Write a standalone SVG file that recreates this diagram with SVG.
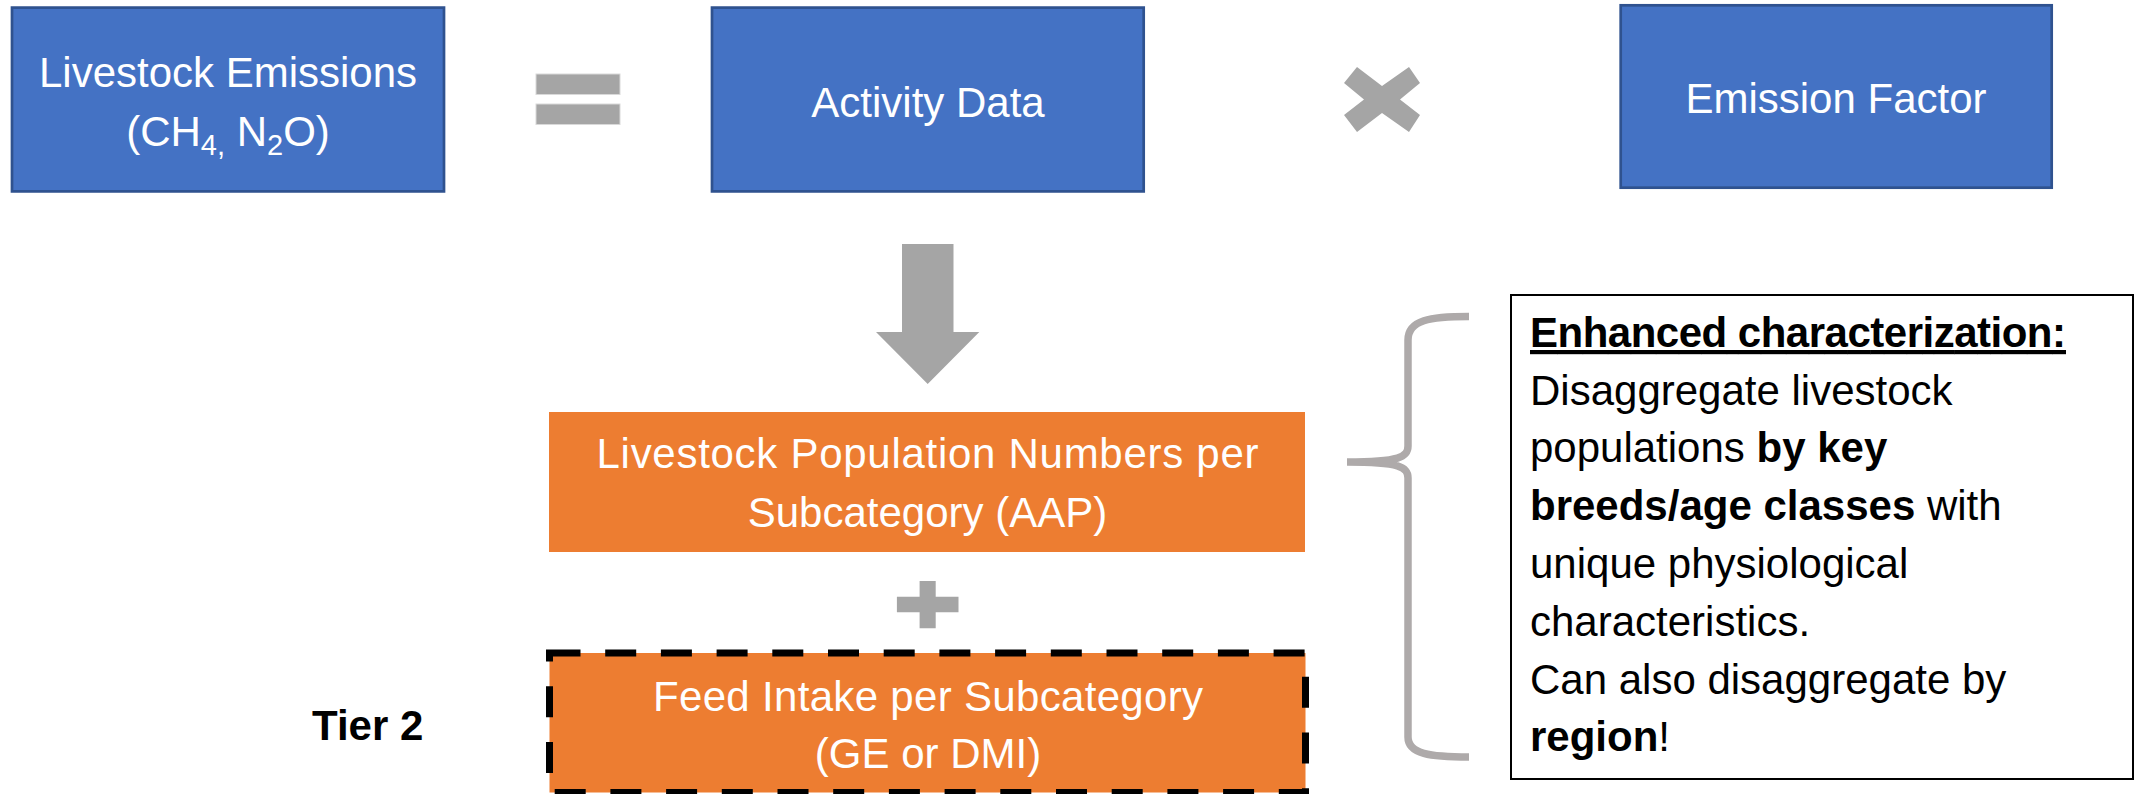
<svg xmlns="http://www.w3.org/2000/svg" width="2139" height="794" viewBox="0 0 2139 794">
  <style>
    .blue { fill: #4472C4; stroke: #2F528F; stroke-width: 2.7; }
    .orange { fill: #ED7D31; }
    .op { fill: #A5A5A5; }
    .wt { fill: #FFFFFF; font-family: "Liberation Sans", Arial, sans-serif; font-size: 42px; text-anchor: middle; }
    .bt { fill: #000000; font-family: "Liberation Sans", Arial, sans-serif; font-size: 42px; }
    .b { font-weight: bold; }
  </style>
  <rect width="2139" height="794" fill="#FFFFFF"/>

  <g id="n-emissions">
    <rect class="blue" x="12" y="7.6" width="432" height="183.8"/>
    <text class="wt" x="228" y="87">Livestock Emissions</text>
    <text class="wt" x="228" y="146">(CH<tspan font-size="29" dy="9">4,</tspan><tspan dy="-9"> N</tspan><tspan font-size="29" dy="9">2</tspan><tspan dy="-9">O)</tspan></text>
  </g>

  <g id="n-activity">
    <rect class="blue" x="712" y="7.6" width="431.7" height="183.8"/>
    <text class="wt" x="928" y="117">Activity Data</text>
  </g>

  <g id="n-factor">
    <rect class="blue" x="1620.7" y="5.3" width="431" height="182.4"/>
    <text class="wt" x="1836" y="113">Emission Factor</text>
  </g>

  <g id="operators">
    <rect class="op" x="536" y="74" width="84" height="20.5" stroke="#D9D9D9" stroke-width="1"/>
    <rect class="op" x="536" y="104" width="84" height="20.5" stroke="#D9D9D9" stroke-width="1"/>
    <polygon class="op" points="1357,67 1382,86 1409,67 1420,83 1400,99.5 1420,115 1409,132 1382,113 1357,132 1344,115 1364,99.5 1344,83"/>
    <polygon class="op" points="919.6,581 935.7,581 935.7,596.7 958.5,596.7 958.5,612.3 935.7,612.3 935.7,628.3 919.6,628.3 919.6,612.3 896.9,612.3 896.9,596.7 919.6,596.7"/>
  </g>

  <g id="connectors">
    <polygon id="arrow-down" class="op" points="902,244 953.5,244 953.5,332 979.3,332 927.7,384 876,332 902,332"/>
    <path id="brace" d="M1469,316.5 C1430,316.5 1408,320 1408,340 L1408,446 C1408,457 1400,462 1347,462 M1347,462 C1400,462 1408,467 1408,478 L1408,737 C1408,754 1430,757 1469,757" fill="none" stroke="#AEAAAA" stroke-width="7.5"/>
  </g>

  <g id="n-population">
    <rect class="orange" x="549" y="412" width="756" height="140"/>
    <text class="wt" x="927.5" y="468" textLength="662">Livestock Population Numbers per</text>
    <text class="wt" x="927.5" y="527">Subcategory (AAP)</text>
  </g>

  <g id="n-feed">
    <rect class="orange" x="549.5" y="653" width="756" height="139.5" stroke="#000000" stroke-width="7" stroke-dasharray="31 24.7"/>
    <text class="wt" x="928" y="711" textLength="550">Feed Intake per Subcategory</text>
    <text class="wt" x="928" y="768">(GE or DMI)</text>
  </g>

  <g id="n-tier2">
    <text class="bt b" x="312" y="740">Tier 2</text>
  </g>

  <g id="n-note">
    <rect x="1511" y="295" width="622" height="484" fill="#FFFFFF" stroke="#000000" stroke-width="2"/>
    <text class="bt b" x="1530" y="347" textLength="536" text-decoration="underline">Enhanced characterization:</text>
    <text class="bt" x="1530" y="405">Disaggregate livestock</text>
    <text class="bt" x="1530" y="462">populations <tspan class="b">by key</tspan></text>
    <text class="bt" x="1530" y="520"><tspan class="b">breeds/age classes</tspan> with</text>
    <text class="bt" x="1530" y="578">unique physiological</text>
    <text class="bt" x="1530" y="636">characteristics.</text>
    <text class="bt" x="1530" y="694">Can also disaggregate by</text>
    <text class="bt" x="1530" y="751"><tspan class="b">region</tspan>!</text>
  </g>
</svg>
